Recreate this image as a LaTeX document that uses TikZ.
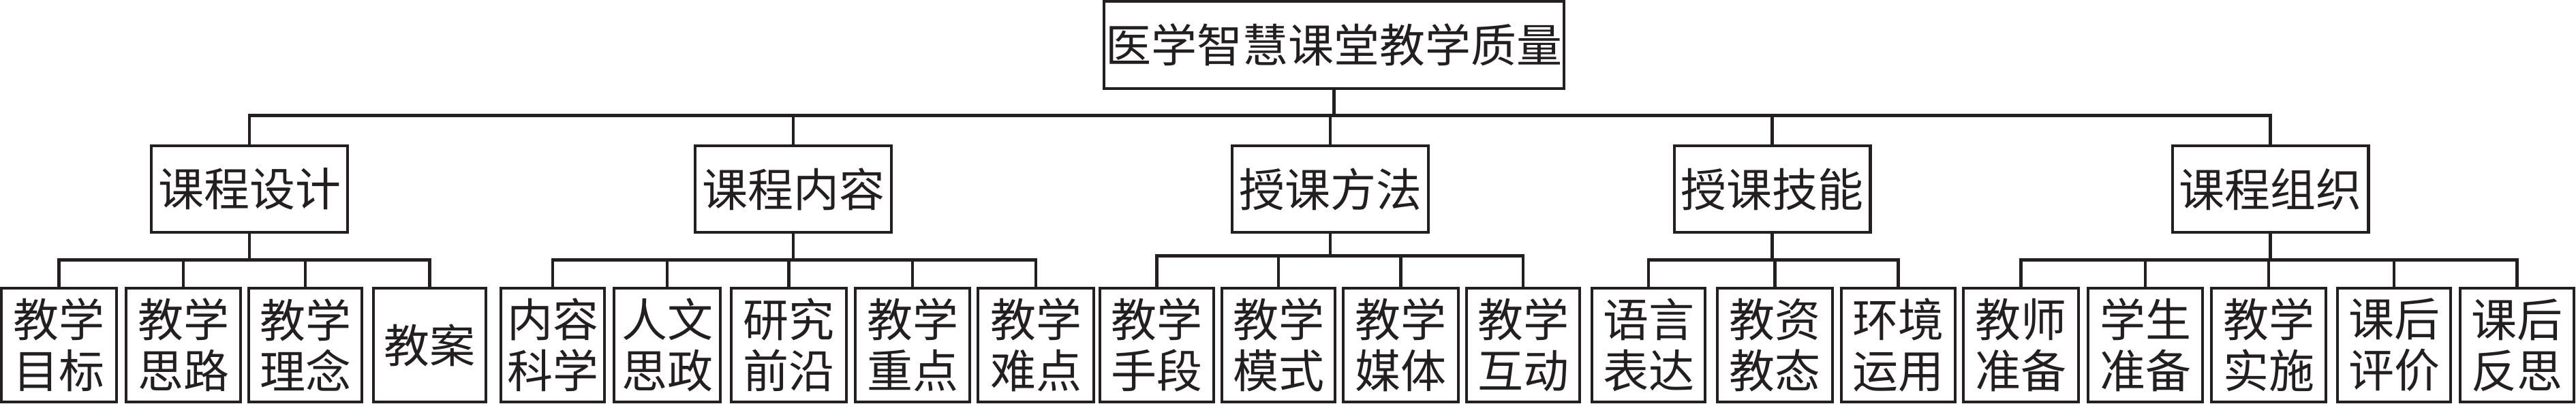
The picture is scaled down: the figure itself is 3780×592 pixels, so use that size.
\documentclass[tikz,border=0pt]{standalone}
\usepackage{fontspec}
\setmainfont{Noto Sans CJK SC}
\definecolor{ink}{RGB}{35,31,32}
\begin{document}
\begin{tikzpicture}[x=0.25pt,y=-0.25pt,
  box/.style={draw=ink, text=ink, line width=1.1pt, inner sep=0pt, align=center,
    font=\fontsize{16.75pt}{18.75pt}\selectfont},
  topbox/.style={box, minimum width=168.65pt, minimum height=31.9pt},
  midbox/.style={box, minimum width=71.9pt, minimum height=31.65pt},
  leafbox/.style={box, minimum height=41.65pt, minimum width=#1},
  link/.style={draw=ink, line width=1.1pt}]
\useasboundingbox (0,0) rectangle (3780,592);
\fill[white] (0,0) rectangle (3780,592);

% root
\node[topbox] (root) at (1957.5,66) {医学智慧课堂教学质量};

% level 2
\node[midbox] (A) at (366,277.5) {课程设计};
\node[midbox] (B) at (1164,277.5) {课程内容};
\node[midbox] (C) at (1952,277.5) {授课方法};
\node[midbox] (D) at (2600.5,277.5) {授课技能};
\node[midbox] (E) at (3331.5,277.5) {课程组织};

% leaves group 1
\node[leafbox=42.15pt] (a1) at (86.5,506.5) {教学\\目标};
\node[leafbox=41.9pt]  (a2) at (269,506.5) {教学\\思路};
\node[leafbox=41.4pt]  (a3) at (448,506.5) {教学\\理念};
\node[leafbox=41.15pt] (a4) at (630.5,506.5) {教案};
% group 2
\node[leafbox=37.9pt]  (b1) at (811,506.5) {内容\\科学};
\node[leafbox=38.9pt]  (b2) at (979,506.5) {人文\\思政};
\node[leafbox=42.15pt] (b3) at (1157.5,506.5) {研究\\前沿};
\node[leafbox=41.9pt]  (b4) at (1339,506.5) {教学\\重点};
\node[leafbox=42.4pt]  (b5) at (1520,506.5) {教学\\难点};
% group 3
\node[leafbox=41.65pt] (c1) at (1697.5,506.5) {教学\\手段};
\node[leafbox=41.4pt]  (c2) at (1876,506.5) {教学\\模式};
\node[leafbox=42.15pt] (c3) at (2055.5,506.5) {教学\\媒体};
\node[leafbox=41.4pt]  (c4) at (2235,506.5) {教学\\互动};
% group 4
\node[leafbox=41.4pt]  (d1) at (2419,506.5) {语言\\表达};
\node[leafbox=42.15pt] (d2) at (2604.5,506.5) {教资\\教态};
\node[leafbox=41.65pt] (d3) at (2785.5,506.5) {环境\\运用};
% group 5
\node[leafbox=42.15pt] (e1) at (2965.5,506.5) {教师\\准备};
\node[leafbox=41.9pt]  (e2) at (3148,506.5) {学生\\准备};
\node[leafbox=41.9pt]  (e3) at (3329,506.5) {教学\\实施};
\node[leafbox=41.4pt]  (e4) at (3513,506.5) {课后\\评价};
\node[leafbox=41.65pt] (e5) at (3693.5,506.5) {课后\\反思};

% bus levels
\coordinate (bar) at (0,169.5);
\coordinate (busA) at (0,381.5);
\coordinate (busB) at (0,381.5);
\coordinate (busC) at (0,375.5);
\coordinate (busD) at (0,381.5);
\coordinate (busE) at (0,381.5);

% root to level 2
\draw[link] (root.south) -- (root.south |- bar);
\draw[link] (A.north) |- (root.south |- bar) -| (E.north);
\foreach \n in {B,C,D} \draw[link] (\n.north) -- (\n.north |- bar);

% level 2 to leaves
\draw[link] (A.south) -- (A.south |- busA);
\draw[link] (a1.north) |- (A.south |- busA) -| (a4.north);
\foreach \n in {a2,a3} \draw[link] (\n.north) -- (\n.north |- busA);

\draw[link] (B.south) -- (B.south |- busB);
\draw[link] (b1.north) |- (B.south |- busB) -| (b5.north);
\foreach \n in {b2,b3,b4} \draw[link] (\n.north) -- (\n.north |- busB);

\draw[link] (C.south) -- (C.south |- busC);
\draw[link] (c1.north) |- (C.south |- busC) -| (c4.north);
\foreach \n in {c2,c3} \draw[link] (\n.north) -- (\n.north |- busC);

\draw[link] (D.south) -- (D.south |- busD);
\draw[link] (d1.north) |- (D.south |- busD) -| (d3.north);
\foreach \n in {d2} \draw[link] (\n.north) -- (\n.north |- busD);

\draw[link] (E.south) -- (E.south |- busE);
\draw[link] (e1.north) |- (E.south |- busE) -| (e5.north);
\foreach \n in {e2,e3,e4} \draw[link] (\n.north) -- (\n.north |- busE);
\end{tikzpicture}
\end{document}
